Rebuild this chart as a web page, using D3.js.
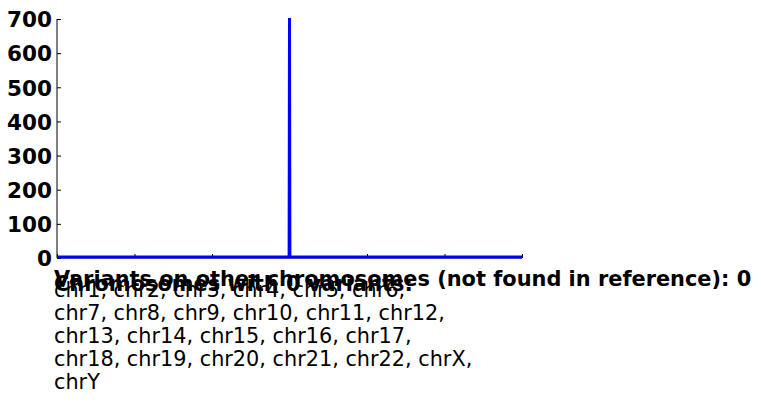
<!DOCTYPE html>
<html><head><meta charset="utf-8">
<script src="https://cdn.jsdelivr.net/npm/d3@7"></script>
<style>body{margin:0;background:#fff}svg{display:block}text{font-family:'DejaVu Sans',sans-serif}</style>
</head><body>
<script>
const xValues = [-3, -2, -1, -0.005, 0, 0.005, 1, 2, 3];
const yValues = [0, 0, 0, 0, 700, 0, 0, 0, 0];
const yTicks = [0, 100, 200, 300, 400, 500, 600, 700];
const xTicks = [-3, -2, -1, 0, 1, 2, 3];
const title1 = "Variants on other chromosomes (not found in reference): 0";
const title2 = "Chromosomes with 0 variants:";
const chromLines = [
  "chr1, chr2, chr3, chr4, chr5, chr6,",
  "chr7, chr8, chr9, chr10, chr11, chr12,",
  "chr13, chr14, chr15, chr16, chr17,",
  "chr18, chr19, chr20, chr21, chr22, chrX,",
  "chrY"
];

const W = 761, H = 403;
const m = {left: 57, right: 522, top: 19, bottom: 258};
const svg = d3.select("body").append("svg").attr("width", W).attr("height", H);
const FF = "'DejaVu Sans', sans-serif";

const x = d3.scaleLinear().domain([-3, 3]).range([m.left, m.right]);
const y = d3.scaleLinear().domain([0, 700]).range([m.bottom, m.top]);

// axes
const yAxis = svg.append("g").attr("transform", `translate(${m.left},0)`)
  .call(d3.axisLeft(y).tickValues(yTicks).tickSize(-4).tickPadding(5).tickFormat(d3.format("d")));
yAxis.attr("font-family", null).attr("font-size", null);
yAxis.selectAll("text").style("font-family", FF).style("font-size", "21.5px")
  .style("font-weight", "bold").attr("fill", "#000").attr("dy", "0.36em");
yAxis.selectAll("line").attr("stroke", "#000");
yAxis.select(".domain").attr("stroke", "#000").attr("d", `M0,${m.top}V${m.bottom}`);

const xAxis = svg.append("g").attr("transform", `translate(0,${m.bottom})`)
  .call(d3.axisBottom(x).tickValues(xTicks).tickSize(-4).tickFormat(""));
xAxis.selectAll("line").attr("stroke", "#000");
xAxis.select(".domain").attr("stroke", "#000").attr("d", `M${m.left},0H${m.right}`);

// line
const line = d3.line().x((d, i) => x(xValues[i])).y(d => y(d));
svg.append("path").datum(yValues).attr("d", line)
  .attr("fill", "none").attr("stroke", "#0000ff").attr("stroke-width", 3)
  .attr("transform", "translate(0,-1)");

// texts
svg.append("text").attr("x", 54).attr("y", 285.5).text(title1)
  .style("font-family", FF).style("font-size", "20.9px").style("font-weight", "bold");
svg.append("text").attr("x", 54).attr("y", 291).text(title2)
  .style("font-family", FF).style("font-size", "20.9px").style("font-weight", "bold");
svg.append("g").selectAll("text").data(chromLines).join("text")
  .attr("x", 54).attr("y", (d, i) => 296.5 + i * 23).text(d => d)
  .style("font-family", FF).style("font-size", "20.8px");
</script>
</body></html>
